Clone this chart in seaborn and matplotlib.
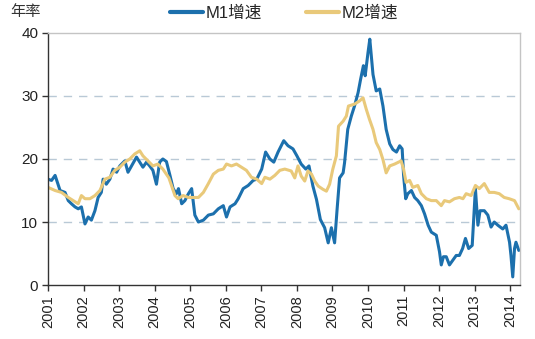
import numpy as np
import pandas as pd
import matplotlib
matplotlib.use("Agg")
import matplotlib.pyplot as plt
import seaborn as sns

# M1 year-on-year growth (%), sampled by decimal year
m1_years = [
    2001.00, 2001.10, 2001.20, 2001.34, 2001.48, 2001.57, 2001.66, 2001.76, 2001.85, 2001.94,
    2002.04, 2002.13, 2002.22, 2002.32, 2002.41, 2002.50, 2002.55, 2002.64, 2002.74, 2002.83,
    2002.93, 2003.02, 2003.16, 2003.25, 2003.35, 2003.49, 2003.58, 2003.67, 2003.77, 2003.86,
    2003.95, 2004.05, 2004.14, 2004.23, 2004.33, 2004.43, 2004.52, 2004.61, 2004.67, 2004.76,
    2004.85, 2004.95, 2005.04, 2005.13, 2005.23, 2005.37, 2005.51, 2005.65, 2005.79, 2005.93,
    2006.02, 2006.12, 2006.26, 2006.35, 2006.49, 2006.63, 2006.77, 2006.87, 2007.01, 2007.12,
    2007.24, 2007.35, 2007.47, 2007.63, 2007.75, 2007.89, 2008.00, 2008.12, 2008.25, 2008.34,
    2008.45, 2008.55, 2008.66, 2008.78, 2008.88, 2008.97, 2009.06, 2009.13, 2009.20, 2009.30,
    2009.34, 2009.43, 2009.53, 2009.62, 2009.72, 2009.79, 2009.87, 2009.92, 2010.00, 2010.05,
    2010.14, 2010.23, 2010.33, 2010.42, 2010.51, 2010.61, 2010.70, 2010.80, 2010.89, 2010.96,
    2011.00, 2011.06, 2011.12, 2011.22, 2011.31, 2011.40, 2011.50, 2011.59, 2011.69, 2011.78,
    2011.92, 2012.01, 2012.06, 2012.12, 2012.20, 2012.29, 2012.38, 2012.48, 2012.57, 2012.66,
    2012.74, 2012.83, 2012.93, 2013.02, 2013.09, 2013.15, 2013.27, 2013.37, 2013.46, 2013.55,
    2013.65, 2013.79, 2013.88, 2013.98, 2014.02, 2014.07, 2014.12, 2014.16, 2014.24,
]
m1_values = [
    16.8, 16.6, 17.4, 15.0, 14.7, 13.4, 12.9, 12.4, 12.1, 12.4,
    9.7, 10.8, 10.3, 11.8, 13.9, 14.7, 16.8, 16.0, 16.8, 18.4,
    17.9, 18.9, 19.7, 17.9, 18.9, 20.3, 19.5, 18.7, 19.5, 18.9,
    18.2, 16.0, 19.5, 20.0, 19.6, 17.4, 15.3, 14.5, 15.3, 12.9,
    13.4, 14.5, 15.3, 11.1, 10.0, 10.3, 11.1, 11.3, 12.1, 12.6,
    10.8, 12.4, 12.9, 13.7, 15.3, 15.8, 16.6, 16.8, 18.4, 21.1,
    20.0, 19.5, 21.1, 22.9, 22.1, 21.6, 20.5, 19.2, 18.4, 18.9,
    15.7, 13.6, 10.4, 9.1, 6.7, 9.1, 6.7, 12.0, 17.0, 17.8,
    19.4, 24.7, 26.8, 28.4, 30.5, 32.6, 34.8, 33.2, 36.9, 39.0,
    33.4, 30.8, 31.1, 28.4, 24.7, 22.4, 21.5, 21.1, 22.1, 21.6,
    17.4, 13.7, 14.5, 15.0, 13.9, 13.4, 12.6, 11.3, 9.5, 8.4,
    7.9, 5.3, 3.2, 4.5, 4.5, 3.2, 3.9, 4.7, 4.7, 5.8,
    7.4, 5.8, 6.3, 15.3, 9.5, 11.8, 11.8, 11.1, 9.2, 10.0,
    9.5, 8.9, 9.5, 6.8, 4.7, 1.3, 5.8, 6.8, 5.5,
]

# M2 year-on-year growth (%), sampled by decimal year
m2_years = [
    2001.00, 2001.20, 2001.38, 2001.57, 2001.71, 2001.85, 2001.94, 2002.04, 2002.18, 2002.32,
    2002.46, 2002.60, 2002.74, 2002.88, 2003.02, 2003.16, 2003.30, 2003.44, 2003.58, 2003.67,
    2003.81, 2003.95, 2004.09, 2004.23, 2004.40, 2004.57, 2004.66, 2004.80, 2004.95, 2005.09,
    2005.23, 2005.37, 2005.51, 2005.65, 2005.79, 2005.93, 2006.02, 2006.16, 2006.30, 2006.44,
    2006.58, 2006.72, 2006.87, 2007.01, 2007.10, 2007.24, 2007.38, 2007.52, 2007.66, 2007.84,
    2007.94, 2008.03, 2008.12, 2008.22, 2008.31, 2008.41, 2008.50, 2008.60, 2008.73, 2008.83,
    2008.92, 2009.01, 2009.11, 2009.17, 2009.30, 2009.39, 2009.45, 2009.62, 2009.76, 2009.86,
    2009.95, 2010.04, 2010.14, 2010.23, 2010.33, 2010.42, 2010.51, 2010.61, 2010.75, 2010.93,
    2011.00, 2011.07, 2011.17, 2011.26, 2011.40, 2011.50, 2011.64, 2011.78, 2011.92, 2012.06,
    2012.15, 2012.29, 2012.43, 2012.57, 2012.67, 2012.76, 2012.90, 2013.02, 2013.13, 2013.27,
    2013.41, 2013.55, 2013.69, 2013.83, 2013.97, 2014.12, 2014.24,
]
m2_values = [
    15.5, 15.0, 14.7, 13.9, 13.4, 12.9, 14.2, 13.7, 13.7, 14.2,
    15.0, 16.8, 17.1, 18.2, 18.7, 19.5, 20.0, 20.8, 21.3, 20.5,
    19.7, 18.9, 19.2, 18.4, 17.0, 14.2, 13.7, 14.2, 13.9, 13.9,
    13.9, 14.7, 16.1, 17.6, 18.2, 18.4, 19.2, 18.9, 19.2, 18.7,
    18.2, 17.1, 16.8, 16.1, 17.1, 16.8, 17.4, 18.2, 18.4, 18.1,
    17.0, 18.9, 17.3, 16.5, 18.1, 17.6, 16.5, 15.7, 15.2, 14.9,
    16.0, 18.4, 20.5, 25.2, 26.0, 26.8, 28.4, 28.7, 29.2, 29.7,
    27.9, 26.3, 24.7, 22.6, 21.5, 19.9, 17.8, 18.9, 19.2, 19.7,
    18.4, 16.3, 16.6, 15.5, 15.8, 14.5, 13.7, 13.4, 13.4, 12.6,
    13.4, 13.2, 13.7, 13.9, 13.7, 14.5, 14.2, 15.8, 15.3, 16.1,
    14.7, 14.7, 14.5, 13.9, 13.7, 13.4, 12.1,
]

series_names = ["M1增速", "M2增速"]
year_ticks = list(range(2001, 2015))
y_ticks = [0, 10, 20, 30, 40]

df = pd.concat([
    pd.DataFrame({"year": m1_years, "rate": m1_values, "series": series_names[0]}),
    pd.DataFrame({"year": m2_years, "rate": m2_values, "series": series_names[1]}),
], ignore_index=True)

sns.set_theme(style="white")
plt.rcParams["font.family"] = ["Liberation Sans", "Noto Sans CJK SC", "DejaVu Sans"]

fig = plt.figure(figsize=(5.35, 3.39), dpi=100)
ax = fig.add_axes([0.0897, 0.159, 0.882, 0.744])

palette = {series_names[0]: "#1c70ad", series_names[1]: "#e9c97a"}
sns.lineplot(data=df, x="year", y="rate", hue="series", palette=palette,
             linewidth=2.2, ax=ax, sort=False, estimator=None)

ax.set_xlim(2001, 2014.27)
ax.set_ylim(0, 40)
ax.set_xticks(year_ticks)
ax.set_xticklabels([str(y) for y in year_ticks], rotation=90, fontsize=10.5, color="#222222")
ax.set_yticks(y_ticks)
ax.set_yticklabels([str(v) for v in y_ticks], fontsize=11, color="#222222")
ax.set_xlabel("")
ax.set_ylabel("")

for v in y_ticks[1:-1]:
    ax.axhline(v, color="#b9c9d6", linewidth=1.0, linestyle=(0, (6, 5)), zorder=0)

for side in ["left", "bottom"]:
    ax.spines[side].set_color("#333333")
    ax.spines[side].set_linewidth(1.0)
for side in ["top", "right"]:
    ax.spines[side].set_color("#c4c4c4")
    ax.spines[side].set_linewidth(1.0)

ax.tick_params(axis="both", direction="out", length=4, width=1.0, color="#333333",
               bottom=True, left=True, pad=3)

leg = ax.legend(loc="center", bbox_to_anchor=(0.5, 1.078), ncol=2, frameon=False,
                fontsize=12, handlelength=2.0, columnspacing=2.6, handletextpad=0.15,
                borderaxespad=0.0)
for line in leg.get_lines():
    line.set_linewidth(3.0)

fig.text(0.02, 0.985, "年率", fontsize=11, color="#333333", ha="left", va="top")

fig.savefig("out.png", dpi=100)
